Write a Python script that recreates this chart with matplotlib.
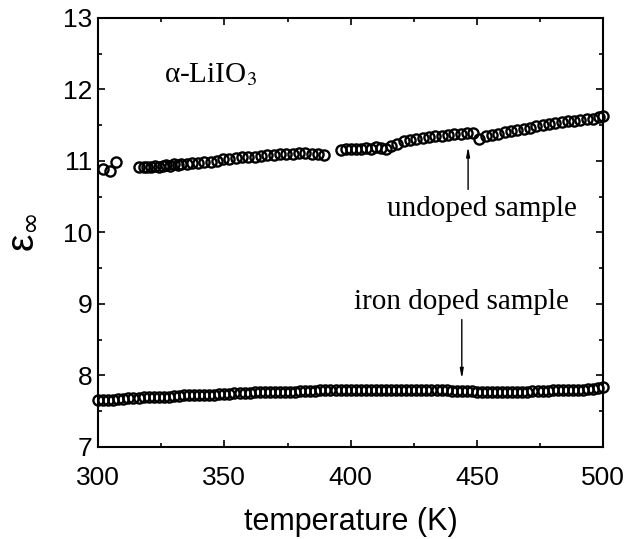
import matplotlib
matplotlib.use("Agg")
import matplotlib.pyplot as plt
from matplotlib.ticker import MultipleLocator

# undoped alpha-LiIO3: high-frequency permittivity vs temperature
t_undoped = [302.0, 304.8, 307.1,
             316.0, 318.0, 319.5, 321.0, 322.5, 324.0, 325.5, 327.0, 328.5, 330.0,
             331.5, 333.0, 335.0, 337.0, 339.5, 342.0, 344.5, 347.0, 349.5, 352.0,
             354.5, 357.0, 359.5, 362.0, 364.5, 367.0, 369.5, 372.0, 374.5, 377.0,
             379.5, 382.0, 384.5, 387.0, 389.5,
             396.0, 398.0, 400.0, 402.0, 404.0, 406.0, 408.0, 410.0, 412.0, 414.0,
             416.0, 418.5, 421.0, 423.5, 426.0, 428.5, 431.0, 433.5, 436.0, 438.5,
             441.0, 443.5, 446.0, 448.5, 451.0, 453.5, 456.0, 458.5, 461.0, 463.5,
             466.0, 468.5, 471.0, 473.5, 476.0, 478.5, 481.0, 483.5, 486.0, 488.5,
             491.0, 493.5, 496.0, 498.5, 500.0]
eps_undoped = [10.89, 10.86, 10.98,
               10.92, 10.91, 10.92, 10.92, 10.93, 10.92, 10.93, 10.94, 10.93, 10.95,
               10.94, 10.96, 10.96, 10.97, 10.97, 10.98, 10.99, 11.00, 11.02, 11.03,
               11.04, 11.05, 11.05, 11.06, 11.07, 11.08, 11.08, 11.09, 11.10, 11.10,
               11.11, 11.11, 11.10, 11.09, 11.08,
               11.15, 11.16, 11.16, 11.17, 11.17, 11.18, 11.17, 11.19, 11.18, 11.16,
               11.21, 11.24, 11.27, 11.29, 11.31, 11.32, 11.33, 11.34, 11.35, 11.36,
               11.37, 11.38, 11.39, 11.39, 11.31, 11.34, 11.36, 11.38, 11.40, 11.41,
               11.43, 11.45, 11.46, 11.48, 11.50, 11.52, 11.53, 11.54, 11.55, 11.56,
               11.57, 11.58, 11.59, 11.61, 11.62]

# iron doped sample, one reading every 2 K
t_doped = [300, 302, 304, 306, 308, 310, 312, 314, 316, 318,
           320, 322, 324, 326, 328, 330, 332, 334, 336, 338,
           340, 342, 344, 346, 348, 350, 352, 354, 356, 358,
           360, 362, 364, 366, 368, 370, 372, 374, 376, 378,
           380, 382, 384, 386, 388, 390, 392, 394, 396, 398,
           400, 402, 404, 406, 408, 410, 412, 414, 416, 418,
           420, 422, 424, 426, 428, 430, 432, 434, 436, 438,
           440, 442, 444, 446, 448, 450, 452, 454, 456, 458,
           460, 462, 464, 466, 468, 470, 472, 474, 476, 478,
           480, 482, 484, 486, 488, 490, 492, 494, 496, 498,
           500]
eps_doped = [7.65, 7.66, 7.66, 7.66, 7.67, 7.67, 7.68, 7.68, 7.68, 7.69,
             7.69, 7.69, 7.70, 7.70, 7.70, 7.71, 7.71, 7.72, 7.72, 7.72,
             7.72, 7.73, 7.73, 7.73, 7.74, 7.74, 7.74, 7.75, 7.75, 7.75,
             7.75, 7.76, 7.76, 7.76, 7.76, 7.77, 7.77, 7.77, 7.77, 7.77,
             7.78, 7.78, 7.78, 7.78, 7.79, 7.79, 7.79, 7.79, 7.79, 7.80,
             7.80, 7.80, 7.80, 7.80, 7.80, 7.80, 7.80, 7.80, 7.80, 7.80,
             7.80, 7.80, 7.80, 7.80, 7.80, 7.79, 7.79, 7.79, 7.79, 7.79,
             7.78, 7.78, 7.78, 7.78, 7.78, 7.77, 7.77, 7.77, 7.77, 7.77,
             7.77, 7.77, 7.77, 7.77, 7.77, 7.77, 7.78, 7.78, 7.78, 7.78,
             7.79, 7.79, 7.79, 7.79, 7.80, 7.80, 7.80, 7.81, 7.81, 7.82,
             7.83]

sans = "Liberation Sans"
serif = "Liberation Serif"

fig = plt.figure(figsize=(6.29, 5.39), dpi=100)
ax = fig.add_axes([0.156, 0.171, 0.803, 0.796])

marker_kw = dict(linestyle="none", marker="o", markersize=7.3,
                 markerfacecolor="none", markeredgecolor="black",
                 markeredgewidth=1.7, clip_on=False)
ax.plot(t_undoped, eps_undoped, **marker_kw)
ax.plot(t_doped, eps_doped, **marker_kw)

ax.set_xlim(300, 500)
ax.set_ylim(7, 13)
ax.xaxis.set_major_locator(MultipleLocator(50))
ax.xaxis.set_minor_locator(MultipleLocator(25))
ax.yaxis.set_major_locator(MultipleLocator(1))
ax.yaxis.set_minor_locator(MultipleLocator(0.5))
ax.tick_params(which="both", direction="in", top=True, right=True, width=1.2)
ax.tick_params(which="major", length=5)
ax.tick_params(which="minor", length=3)
ax.tick_params(axis="x", pad=14)
ax.tick_params(axis="y", pad=4)
for lbl in ax.get_xticklabels() + ax.get_yticklabels():
    lbl.set_fontfamily(sans)
    lbl.set_fontsize(19)
for sp in ax.spines.values():
    sp.set_linewidth(1.5)

ax.set_xlabel("temperature (K)", fontfamily=sans, fontsize=22, labelpad=12)
ax.set_ylabel(r"ε$_\infty$", fontfamily=sans, fontsize=28,
              math_fontfamily="dejavusans", labelpad=17)

ax.text(326, 12.2, "α-LiIO$_3$", fontfamily=serif, fontsize=21,
        math_fontfamily="stix", va="center", ha="left")

arrow_kw = dict(arrowstyle="-|>,head_width=0.1,head_length=0.55",
                color="black", lw=1.0, shrinkA=0, shrinkB=0)
ax.text(452, 10.33, "undoped sample", fontfamily=serif, fontsize=21,
        ha="center", va="center")
ax.annotate("", xy=(446.5, 11.2), xytext=(446.5, 10.6), arrowprops=arrow_kw)

ax.text(444, 9.03, "iron doped sample", fontfamily=serif, fontsize=21,
        ha="center", va="center")
ax.annotate("", xy=(444, 7.95), xytext=(444, 8.78), arrowprops=arrow_kw)

fig.savefig("out.png", dpi=100)
